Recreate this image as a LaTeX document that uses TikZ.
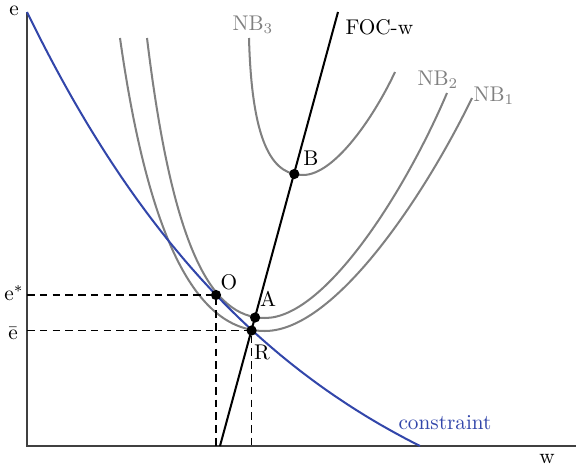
\documentclass[tikz,border=0pt]{standalone}
\usepackage{amsmath}
\usepackage{xcolor}
\usetikzlibrary{positioning}
\definecolor{cblue}{RGB}{50,70,170}

\begin{document}
\begin{tikzpicture}[x=0.47pt,y=-0.47pt,
  dot/.style={circle,fill=black,inner sep=0pt,minimum size=4.8pt},
  nbline/.style={gray,line width=0.95pt},
  guide/.style={black,line width=0.5pt,dash pattern=on 3.6pt off 2.4pt}]
  \useasboundingbox (0,0) rectangle (578,468);
  % axes
  \coordinate (orig) at (27,446);
  \coordinate (etop) at (27,12);
  \coordinate (wend) at (576,446);
  \draw[black!75,line width=0.55pt] (etop) -- (orig) -- (wend);
  \node (elab) at (14,11) {e};
  \node (wlab) at (547,459) {w};

  % indifference curves
  \draw[nbline] (120,38) .. controls (150,250) and (200,331) .. (265,331)
                .. controls (335,331) and (425,195) .. (472,98);
  \draw[nbline] (147,38) .. controls (172,245) and (210,318) .. (265,318)
                .. controls (325,318) and (405,192) .. (447,93);
  \draw[nbline] (249,38) .. controls (252,150) and (275,175) .. (303,175)
                .. controls (335,175) and (375,115) .. (395,72);
  \node[gray] (nb3) at (253,25) {NB$_3$};
  \node[gray] (nb2) at (438,80) {NB$_2$};
  \node[gray] (nb1) at (494,96) {NB$_1$};

  % constraint
  \draw[cblue,line width=0.95pt] plot[domain=27:420,samples=80]
    (\x,{446-(573.5*exp(-(\x-27)/278)-139.5)});
  \node[cblue] (clab) at (445,423) {constraint};

  % first order condition
  \coordinate (focbot) at (220,446);
  \coordinate (foctop) at (338,12);
  \draw[black,line width=0.95pt] (focbot) -- (foctop);
  \node[anchor=west] (foclab) at (338,27) {FOC-w};

  % points
  \node[dot] (O) at (216,295) {};
  \node[dot] (A) at (255.1,317.5) {};
  \node[dot] (R) at (251.6,330.5) {};
  \node[dot] (B) at (294.3,174) {};
  \node (Olab) at (229,282) {O};
  \node (Alab) at (268,299) {A};
  \node (Rlab) at (262,352) {R};
  \node (Blab) at (311,158) {B};

  % guides to the axes
  \coordinate (estar) at (27,295);
  \coordinate (ebar) at (27,330.5);
  \coordinate (wO) at (216,446);
  \coordinate (wR) at (251.6,446);
  \draw[guide] (estar) -- (O.center) -- (wO);
  \draw[guide] (ebar) -- (R.center) -- (wR);
  \node (estarlab) at (14,293) {e$^*$};
  \node (ebarlab) at (13,333) {$\bar{\mathrm{e}}$};
\end{tikzpicture}
\end{document}
